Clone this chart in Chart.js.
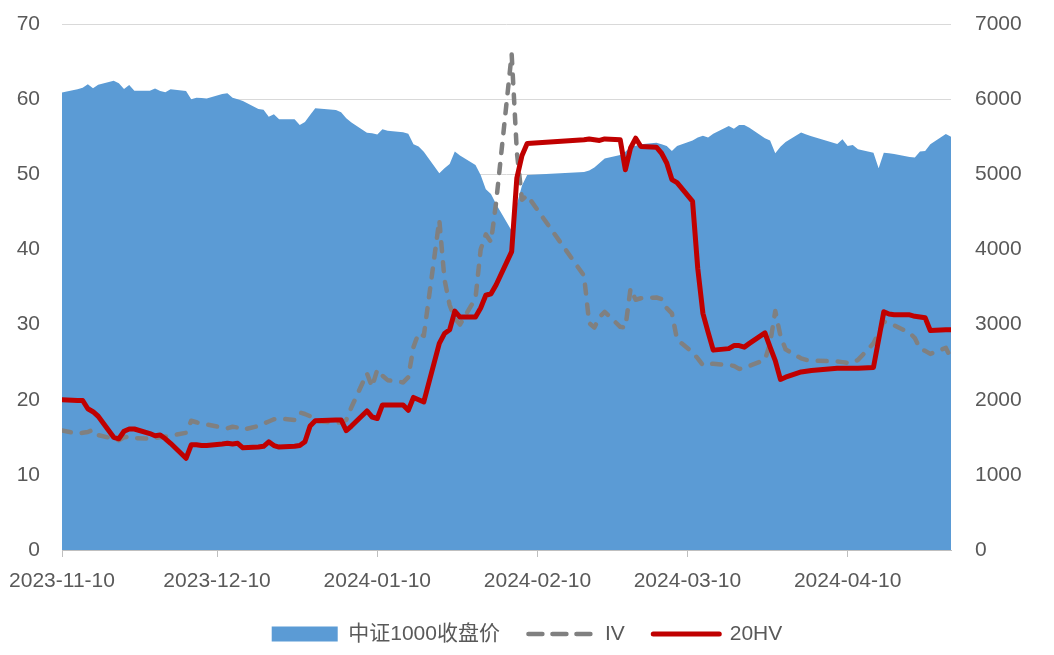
<!DOCTYPE html>
<html>
<head>
<meta charset="utf-8">
<script src="https://cdn.jsdelivr.net/npm/chart.js@4.4.1/dist/chart.umd.min.js"></script>
<style>
  html, body { margin: 0; padding: 0; background: #fff; }
  #wrap { width: 1054px; height: 655px; }
</style>
</head>
<body>
<div id="wrap"><canvas id="chart" width="1054" height="655"></canvas></div>
<script>
// trading days shown on the chart
const dates = [
  '2023-11-10', '2023-11-13', '2023-11-14', '2023-11-15', '2023-11-16', '2023-11-17',
  '2023-11-20', '2023-11-21', '2023-11-22', '2023-11-23', '2023-11-24',
  '2023-11-27', '2023-11-28', '2023-11-29', '2023-11-30', '2023-12-01',
  '2023-12-04', '2023-12-05', '2023-12-06', '2023-12-07', '2023-12-08',
  '2023-12-11', '2023-12-12', '2023-12-13', '2023-12-14', '2023-12-15',
  '2023-12-18', '2023-12-19', '2023-12-20', '2023-12-21', '2023-12-22',
  '2023-12-25', '2023-12-26', '2023-12-27', '2023-12-28', '2023-12-29',
  '2024-01-02', '2024-01-03', '2024-01-04', '2024-01-05',
  '2024-01-08', '2024-01-09', '2024-01-10', '2024-01-11', '2024-01-12',
  '2024-01-15', '2024-01-16', '2024-01-17', '2024-01-18', '2024-01-19',
  '2024-01-22', '2024-01-23', '2024-01-24', '2024-01-25', '2024-01-26',
  '2024-01-29', '2024-01-30', '2024-01-31', '2024-02-01', '2024-02-02',
  '2024-02-05', '2024-02-06', '2024-02-07', '2024-02-08',
  '2024-02-19', '2024-02-20', '2024-02-21', '2024-02-22', '2024-02-23',
  '2024-02-26', '2024-02-27', '2024-02-28', '2024-02-29', '2024-03-01',
  '2024-03-04', '2024-03-05', '2024-03-06', '2024-03-07', '2024-03-08',
  '2024-03-11', '2024-03-12', '2024-03-13', '2024-03-14', '2024-03-15',
  '2024-03-18', '2024-03-19', '2024-03-20', '2024-03-21', '2024-03-22',
  '2024-03-25', '2024-03-26', '2024-03-27', '2024-03-28', '2024-03-29',
  '2024-04-01', '2024-04-02', '2024-04-03',
  '2024-04-08', '2024-04-09', '2024-04-10', '2024-04-11', '2024-04-12',
  '2024-04-15', '2024-04-16', '2024-04-17', '2024-04-18', '2024-04-19',
  '2024-04-22', '2024-04-23', '2024-04-24', '2024-04-25', '2024-04-26',
  '2024-04-29', '2024-04-30'
];

// 中证1000 close (right axis)
const closeVals = [
  6087, 6132, 6150, 6198, 6145, 6190,
  6246, 6210, 6135, 6189, 6113,
  6113, 6140, 6110, 6091, 6132,
  6110, 5998, 6020, 6015, 6007,
  6070, 6078, 6020, 6000, 5976,
  5869, 5860, 5767, 5799, 5733,
  5733, 5657, 5697, 5790, 5879,
  5856, 5826, 5746, 5690,
  5554, 5545, 5530, 5599, 5580,
  5559, 5540, 5400, 5370, 5300,
  5014, 5080, 5138, 5302, 5250,
  5124, 4991, 4800, 4738, 4600,
  4250, 4600, 4850, 4990,
  5030, 5050, 5090, 5150, 5210,
  5257, 5300, 5368, 5380, 5400,
  5420, 5400, 5377, 5311, 5377,
  5450, 5490, 5514, 5488, 5540,
  5643, 5607, 5657, 5657, 5620,
  5480, 5448, 5280, 5368, 5430,
  5555, 5530, 5505,
  5404, 5466, 5377, 5390, 5333,
  5288, 5080, 5288, 5280, 5270,
  5230, 5222, 5302, 5311, 5400,
  5537, 5501
];

// implied volatility (left axis)
const ivVals = [
  15.9, 15.5, 15.6, 15.7, 16.0, 15.3,
  14.8, 14.6, 15.0, 15.1, 14.9,
  14.8, 14.9, 15.0, 15.1, 15.2,
  15.6, 17.2, 17.0, 16.8, 16.7,
  16.3, 16.2, 16.4, 16.3, 16.0,
  16.5, 16.8, 17.1, 17.4, 17.5,
  17.3, 18.3, 18.1, 17.8, 17.2,
  16.9, 17.0, 17.3, 19.0,
  23.5, 21.7, 24.0, 23.2, 22.6,
  22.3, 23.0, 27.0, 28.9, 28.5,
  43.9, 36.0, 32.6, 30.8, 30.0,
  33.5, 40.0, 42.0, 41.0, 46.3,
  66.0, 53.0, 46.6, 47.2,
  36.5, 30.2, 29.6, 31.0, 31.7,
  29.7, 29.6, 34.8, 33.3, 33.5,
  33.6, 33.4, 32.2, 31.5, 28.0,
  26.3, 25.5, 24.6, 24.7, 24.8,
  24.6, 24.5, 24.1, 24.2, 24.5,
  25.3, 27.5, 31.8, 28.5, 26.7,
  25.5, 25.3, 25.2,
  25.1, 25.0, 24.9, 24.9, 25.3,
  27.5, 28.9, 30.4, 30.2, 29.9,
  28.9, 28.2, 26.8, 26.5, 26.1,
  26.9, 25.5
];

// 20-day historical volatility (left axis)
const hvVals = [
  20.0, 19.9, 19.9, 18.8, 18.4, 17.8,
  15.0, 14.8, 15.8, 16.1, 16.1,
  15.5, 15.2, 15.3, 14.8, 14.2,
  12.2, 14.0, 14.0, 13.9, 13.9,
  14.1, 14.2, 14.1, 14.2, 13.6,
  13.7, 13.8, 14.4, 13.9, 13.7,
  13.8, 13.9, 14.4, 16.5, 17.2,
  17.3, 17.3, 15.9, 16.5,
  18.5, 17.7, 17.5, 19.3, 19.3,
  19.3, 18.6, 20.3, 20.0, 19.7,
  27.5, 28.8, 29.3, 31.8, 31.0,
  31.0, 32.2, 33.9, 34.1, 35.3,
  39.7, 49.5, 52.5, 54.1,
  54.6, 54.7, 54.6, 54.5, 54.7,
  54.6, 50.6, 53.5, 54.8, 53.7,
  53.6, 52.8, 51.5, 49.3, 48.9,
  46.4, 37.5, 31.5, 29.0, 26.6,
  26.8, 27.2, 27.2, 27.0, 27.5,
  28.9, 27.0, 25.2, 22.7, 23.0,
  23.7, 23.8, 23.9,
  24.2, 24.2, 24.2, 24.2, 24.2,
  24.3, 28.0, 31.7, 31.4, 31.3,
  31.3, 31.1, 31.0, 30.9, 29.2,
  29.3, 29.3
];

// x axis tick labels
const tickDates = ['2023-11-10', '2023-12-10', '2024-01-10', '2024-02-10', '2024-03-10', '2024-04-10'];

const startDate = dates[0];
const endDate = dates[dates.length - 1];

// days since the first date (calendar axis like Excel date axis)
function dayOf(s) {
    return (Date.parse(s + 'T00:00:00Z') - Date.parse(startDate + 'T00:00:00Z')) / 86400000;
}
function labelOf(v) {
    let d = new Date(Date.parse(startDate + 'T00:00:00Z') + v * 86400000);
    return d.toISOString().slice(0, 10);
}
function toPoints(vals) {
    return vals.map((v, i) => ({ x: dayOf(dates[i]), y: v }));
}

// keep the plot area fixed, labels may overflow into the margins
function fixWidth(w) {
    return (scale) => {
        scale.width = w;
        scale.paddingTop = 0;
        scale.paddingBottom = 0;
    };
}

const textColor = '#595959';
const fontFamily = '"Liberation Sans", "Noto Sans CJK SC", sans-serif';

// legend samples: filled box for the area, line samples for IV / 20HV
function legendLabels(chart) {
    let items = Chart.defaults.plugins.legend.labels.generateLabels(chart);
    for (let it of items) {
        let ds = chart.data.datasets[it.datasetIndex];
        if (it.datasetIndex === 0) {
            it.pointStyle = 'rect';
            it.lineWidth = 0;
        } else {
            it.pointStyle = 'line';
            it.strokeStyle = ds.borderColor;
            it.lineWidth = ds.borderWidth;
            it.lineCap = 'round';
            it.lineDash = ds.borderDash ? [14, 10] : [];
        }
    }
    return items;
}

let ctx = document.getElementById('chart');
new Chart(ctx, {
    type: 'line',
    data: {
        datasets: [
            {
                label: '中证1000收盘价',
                data: toPoints(closeVals),
                yAxisID: 'y2',
                fill: 'origin',
                backgroundColor: '#5b9bd5',
                borderColor: '#5b9bd5',
                borderWidth: 0,
                pointRadius: 0,
                order: 3
            },
            {
                label: 'IV',
                data: toPoints(ivVals),
                yAxisID: 'y',
                fill: false,
                borderColor: '#808080',
                backgroundColor: '#808080',
                borderWidth: 4.5,
                borderDash: [9, 11],
                borderCapStyle: 'round',
                borderJoinStyle: 'round',
                pointRadius: 0,
                order: 2
            },
            {
                label: '20HV',
                data: toPoints(hvVals),
                yAxisID: 'y',
                fill: false,
                borderColor: '#c00000',
                backgroundColor: '#c00000',
                borderWidth: 5,
                borderCapStyle: 'round',
                borderJoinStyle: 'round',
                pointRadius: 0,
                order: 1
            }
        ]
    },
    options: {
        responsive: false,
        animation: false,
        devicePixelRatio: 1,
        layout: { padding: { top: 24, right: 0, left: 0, bottom: 0.5 } },
        plugins: {
            tooltip: { enabled: false },
            legend: {
                position: 'bottom',
                labels: {
                    color: textColor,
                    font: { family: fontFamily, size: 21 },
                    usePointStyle: true,
                    pointStyleWidth: 66,
                    boxHeight: 15,
                    padding: 28.5,
                    sort: (a, b) => a.datasetIndex - b.datasetIndex,
                    generateLabels: legendLabels
                }
            }
        },
        scales: {
            x: {
                type: 'linear',
                min: 0,
                max: dayOf(endDate),
                afterBuildTicks: (scale) => {
                    scale.ticks = tickDates.map(d => ({ value: dayOf(d) }));
                },
                afterFit: (scale) => {
                    scale.height = 45;
                    scale.paddingLeft = 0;
                    scale.paddingRight = 0;
                },
                ticks: {
                    color: textColor,
                    font: { family: fontFamily, size: 21 },
                    maxRotation: 0,
                    autoSkip: false,
                    padding: 12,
                    callback: (v) => labelOf(v)
                },
                grid: {
                    drawOnChartArea: false,
                    drawTicks: true,
                    tickLength: 7,
                    color: '#bfbfbf'
                },
                border: { display: true, color: '#bfbfbf', width: 1 }
            },
            y: {
                position: 'left',
                min: 0,
                max: 70,
                afterFit: fixWidth(62),
                ticks: {
                    stepSize: 10,
                    color: textColor,
                    font: { family: fontFamily, size: 21 },
                    padding: 22,
                    callback: (v) => String(v)
                },
                grid: { color: '#d9d9d9', lineWidth: 1, drawTicks: false },
                border: { display: false }
            },
            y2: {
                position: 'right',
                min: 0,
                max: 7000,
                afterFit: fixWidth(103),
                ticks: {
                    stepSize: 1000,
                    color: textColor,
                    font: { family: fontFamily, size: 21 },
                    padding: 24,
                    callback: (v) => String(v)
                },
                grid: { drawOnChartArea: false, drawTicks: false },
                border: { display: false }
            }
        }
    }
});
</script>
</body>
</html>
